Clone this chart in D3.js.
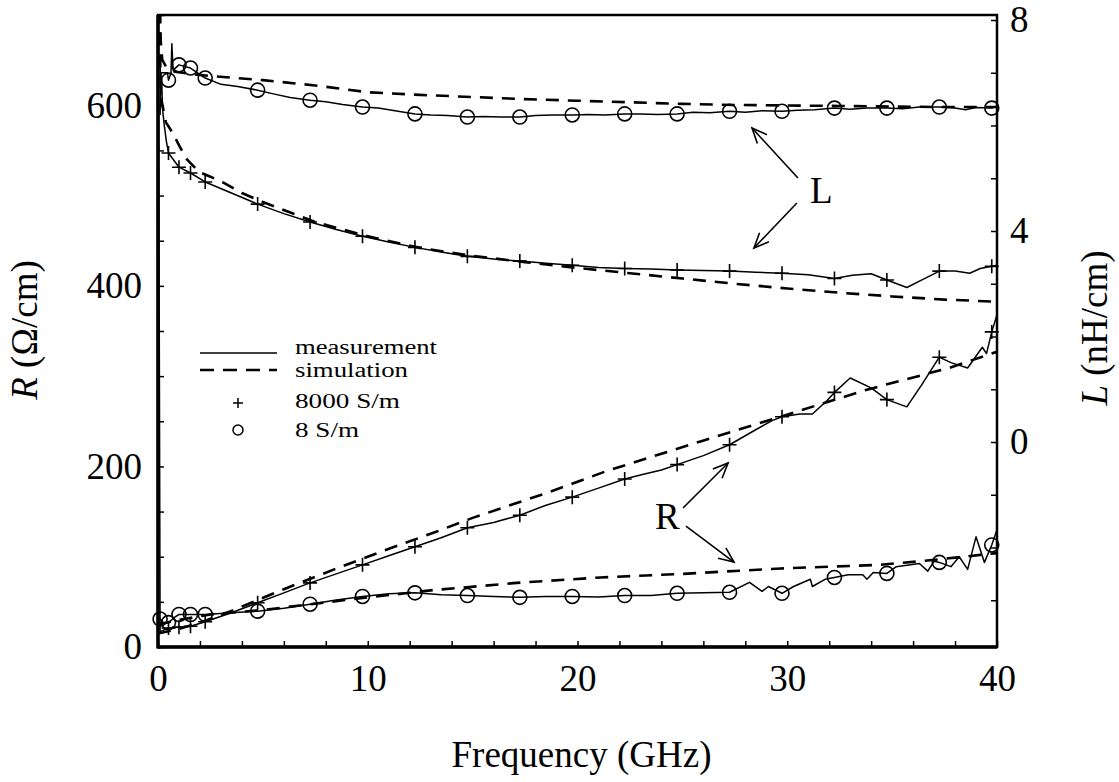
<!DOCTYPE html>
<html>
<head>
<meta charset="utf-8">
<script src="https://cdn.jsdelivr.net/npm/d3@7"></script>
<style>
body { margin: 0; background: #fff; }
text { font-family: "Liberation Serif", "Times New Roman", serif; fill: #000; }
</style>
</head>
<body>
<div id="chart"></div>
<script>
// frequency in GHz, R in ohm/cm (left axis), L in nH/cm (right axis)
const xTicks = [0, 10, 20, 30, 40];
const rTicks = [0, 200, 400, 600];
const lTicks = [0, 4, 8];

// marker positions along the measured curves
const markF = [0.5, 1.0, 1.55, 2.25, 4.75, 7.25, 9.75, 12.25, 14.75, 17.25, 19.75, 22.25, 24.75, 27.25, 29.75, 32.25, 34.75, 37.25, 39.75];
const markF8R = [0.1].concat(markF);

// L, 8 S/m
const lMeas8 = [[0.1, 6.2], [0.15, 7.0], [0.45, 7.0], [0.5, 6.86], [0.62, 7.0], [0.66, 7.55], [0.72, 7.05], [1.0, 7.15], [1.55, 7.09], [2.25, 6.9], [3.0, 6.78], [3.8, 6.74], [4.75, 6.67], [5.5, 6.6], [6.3, 6.53], [7.25, 6.48], [8.0, 6.45], [8.8, 6.4], [9.75, 6.35], [10.5, 6.33], [11.3, 6.28], [12.25, 6.22], [13.0, 6.2], [13.8, 6.19], [14.75, 6.16], [15.5, 6.17], [16.3, 6.16], [17.25, 6.16], [18.0, 6.19], [18.8, 6.2], [19.75, 6.2], [20.5, 6.21], [21.3, 6.2], [22.25, 6.22], [23.0, 6.22], [23.8, 6.21], [24.75, 6.22], [25.5, 6.25], [26.3, 6.24], [27.25, 6.27], [28.0, 6.25], [28.8, 6.28], [29.75, 6.27], [30.5, 6.29], [31.3, 6.3], [32.25, 6.33], [33.0, 6.31], [33.8, 6.33], [34.75, 6.33], [35.5, 6.32], [36.3, 6.35], [37.25, 6.35], [38.0, 6.33], [38.5, 6.3], [39.0, 6.34], [39.75, 6.33], [40, 6.36]];
const lSim8 = [[0.08, 8.6], [0.13, 7.6], [0.2, 7.25], [0.4, 7.1], [0.8, 7.02], [1.5, 6.98], [2.5, 6.94], [5, 6.86], [7.5, 6.76], [10, 6.63], [12.5, 6.58], [15, 6.54], [17.5, 6.5], [20, 6.47], [22.5, 6.44], [25, 6.41], [27.5, 6.39], [30, 6.38], [32.5, 6.37], [35, 6.36], [37.5, 6.35], [40, 6.35]];

// L, 8000 S/m
const lMeas8000 = [[0.1, 7.3], [0.13, 6.6], [0.17, 6.9], [0.22, 6.3], [0.3, 6.0], [0.4, 5.7], [0.5, 5.48], [1.0, 5.21], [1.55, 5.10], [2.25, 4.93], [3.5, 4.72], [4.75, 4.51], [6.0, 4.33], [7.25, 4.17], [8.5, 4.03], [9.75, 3.9], [11.0, 3.79], [12.25, 3.69], [13.5, 3.6], [14.75, 3.52], [16.0, 3.47], [17.25, 3.43], [18.5, 3.39], [19.75, 3.35], [21.0, 3.31], [22.25, 3.29], [23.5, 3.28], [24.75, 3.26], [26.0, 3.25], [27.25, 3.24], [28.5, 3.22], [29.75, 3.2], [31.0, 3.17], [32.25, 3.1], [33.1, 3.16], [34.0, 3.19], [34.75, 3.07], [35.7, 2.93], [36.4, 3.07], [37.25, 3.24], [38.0, 3.24], [38.7, 3.2], [39.2, 3.29], [39.75, 3.33], [40, 3.35]];
const lSim8000 = [[0.07, 8.6], [0.1, 7.3], [0.15, 6.5], [0.38, 6.06], [0.7, 5.86], [1.0, 5.63], [1.33, 5.38], [1.95, 5.12], [2.5, 5.03], [3.1, 4.92], [4.0, 4.72], [5.0, 4.55], [7.5, 4.17], [10, 3.9], [12.5, 3.68], [15, 3.53], [17.5, 3.41], [20, 3.3], [22.5, 3.2], [25, 3.1], [27.5, 3.0], [30, 2.91], [32.5, 2.83], [35, 2.76], [37.5, 2.7], [40, 2.66]];

// R, 8000 S/m
const rMeas8000 = [[0.02, 690], [0.1, 17], [0.5, 21], [1.0, 22], [1.55, 23], [2.25, 28], [3.5, 38], [4.75, 49], [6.0, 60], [7.25, 71], [8.5, 81], [9.75, 91], [11.0, 101], [12.25, 111], [13.5, 121], [14.75, 132], [16.0, 138], [17.25, 146], [18.5, 157], [19.75, 166], [21.0, 176], [22.25, 186], [23.1, 191], [24.0, 196], [24.75, 202], [26.0, 212], [27.25, 224], [28.6, 242], [29.3, 251], [29.75, 255], [30.6, 258], [31.2, 258], [31.9, 273], [32.25, 282], [33.0, 298], [34.0, 287], [34.75, 274], [35.7, 266], [36.4, 290], [37.25, 321], [37.8, 315], [38.6, 309], [39.3, 332], [39.5, 325], [39.75, 349], [40, 368]];
const rSim8000 = [[0, 15], [1, 20], [2, 27], [3.5, 40], [6, 64], [8.4, 86], [10.8, 107], [13.3, 128], [15, 143], [18.7, 172], [21.4, 195], [24.4, 217], [25.9, 228], [29.8, 256], [33.8, 285], [37.7, 309], [40, 327]];

// R, 8 S/m
const rMeas8 = [[0.05, 30], [0.1, 31], [0.3, 26], [0.5, 27], [0.8, 33], [1.0, 36], [1.55, 36], [2.25, 36], [3.5, 38], [4.75, 39.7], [6.0, 43], [7.25, 47.4], [8.5, 52], [9.75, 56], [11.0, 59], [12.25, 60], [13.5, 58], [14.75, 57], [16.0, 56], [17.25, 55], [18.5, 56], [19.75, 56], [21.0, 55.5], [22.25, 57], [23.5, 57], [24.75, 59.5], [26.0, 60], [27.25, 60.6], [28.2, 71.6], [28.8, 61.7], [29.1, 67], [29.75, 59.5], [30.3, 67], [31.1, 75], [31.2, 67], [31.8, 75], [32.25, 77], [32.9, 80], [33.6, 80], [33.8, 75], [34.1, 82.6], [34.75, 81.5], [35.2, 89], [36.3, 92.5], [36.7, 84], [37.0, 95], [37.25, 93.7], [37.8, 89], [38.2, 100], [38.6, 86], [39.0, 122], [39.4, 93.7], [39.75, 113], [40, 130]];
const rSim8 = [[0, 25], [1, 30], [2.5, 36], [5, 41], [7.5, 48], [10, 55], [12, 60], [13.1, 63], [17.1, 71], [21.1, 77], [25, 81], [29.7, 87], [34.4, 91], [36.8, 96], [39.2, 102], [40, 104]];

// annotations, in (GHz, ohm/cm)
const annotLabels = [{text: "L", f: 31.08, r: 491.7}, {text: "R", f: 23.69, r: 130.7}];
const annotArrows = [
    {f0: 30.51, r0: 519.4, f1: 28.32, r1: 574.8},
    {f0: 30.46, r0: 491.7, f1: 28.41, r1: 441.9},
    {f0: 25.03, r0: 153.9, f1: 27.18, r1: 203.8},
    {f0: 25.17, r0: 134.0, f1: 27.46, r1: 94.1}
];

const width = 1119, height = 782;
const plot = {left: 158, right: 997, top: 15, bottom: 647};

const svg = d3.select("#chart").append("svg").attr("width", width).attr("height", height);
svg.append("rect").attr("width", width).attr("height", height).attr("fill", "#fff");

const x = d3.scaleLinear().domain([0, 40]).range([plot.left, plot.right]);
const yR = d3.scaleLinear().domain([0, 700]).range([plot.bottom, plot.top]);
const yL = d3.scaleLinear().domain([-3.886, 8.095]).range([plot.bottom, plot.top]);

const defs = svg.append("defs");
defs.append("clipPath").attr("id", "clip")
    .append("rect")
    .attr("x", plot.left).attr("y", plot.top)
    .attr("width", plot.right - plot.left).attr("height", plot.bottom - plot.top);
defs.append("marker")
    .attr("id", "arrow")
    .attr("markerUnits", "userSpaceOnUse")
    .attr("markerWidth", 20).attr("markerHeight", 20)
    .attr("refX", 16).attr("refY", 8)
    .attr("orient", "auto")
    .append("path")
    .attr("d", "M1,1.5L16,8L1,14.5")
    .attr("fill", "none").attr("stroke", "#000").attr("stroke-width", 1.6);

// axes
const xAxis = d3.axisBottom(x).tickValues(d3.range(0, 41, 2)).tickSize(-6).tickPadding(18)
    .tickFormat(d => xTicks.includes(d) ? d : "");
const rAxis = d3.axisLeft(yR).tickValues(d3.range(0, 701, 50)).tickSize(-6).tickPadding(16)
    .tickFormat(d => rTicks.includes(d) ? d : "");
const lAxis = d3.axisRight(yL).tickValues(d3.range(-3, 9, 1)).tickSize(-6).tickPadding(13)
    .tickFormat(d => lTicks.includes(d) ? d : "");

const gx = svg.append("g").attr("transform", `translate(0,${plot.bottom})`).call(xAxis);
const gr = svg.append("g").attr("transform", `translate(${plot.left},0)`).call(rAxis);
const gl = svg.append("g").attr("transform", `translate(${plot.right},0)`).call(lAxis);

[gx, gr, gl].forEach(g => {
    g.select(".domain").remove();
    g.selectAll(".tick line").attr("stroke", "#000").attr("stroke-width", 1.5);
    g.selectAll(".tick text")
        .attr("font-size", 37)
        .attr("font-family", '"Liberation Serif", "Times New Roman", serif')
        .attr("fill", "#000");
});

// frame
svg.append("rect")
    .attr("x", plot.left).attr("y", plot.top)
    .attr("width", plot.right - plot.left).attr("height", plot.bottom - plot.top)
    .attr("fill", "none").attr("stroke", "#000").attr("stroke-width", 2.5);
svg.append("line")
    .attr("x1", plot.left).attr("x2", plot.left).attr("y1", plot.top).attr("y2", plot.bottom + 1.5)
    .attr("stroke", "#000").attr("stroke-width", 3.5);
svg.append("line")
    .attr("x1", plot.left).attr("x2", plot.right).attr("y1", plot.bottom).attr("y2", plot.bottom)
    .attr("stroke", "#000").attr("stroke-width", 3.5);

// curves
const lineR = d3.line().x(d => x(d[0])).y(d => yR(d[1]));
const lineL = d3.line().x(d => x(d[0])).y(d => yL(d[1]));

const curves = svg.append("g").attr("clip-path", "url(#clip)");
const series = [
    {data: rSim8000, line: lineR, dash: true},
    {data: rSim8, line: lineR, dash: true},
    {data: lSim8000, line: lineL, dash: true},
    {data: lSim8, line: lineL, dash: true},
    {data: rMeas8000, line: lineR, dash: false},
    {data: rMeas8, line: lineR, dash: false},
    {data: lMeas8000, line: lineL, dash: false},
    {data: lMeas8, line: lineL, dash: false}
];
curves.selectAll("path.curve")
    .data(series)
    .join("path")
    .attr("class", "curve")
    .attr("d", d => d.line(d.data))
    .attr("fill", "none")
    .attr("stroke", "#000")
    .attr("stroke-width", d => d.dash ? 2.6 : 1.5)
    .attr("stroke-dasharray", d => d.dash ? "13,9" : null)
    .attr("stroke-linejoin", "round");

// markers
const pick = (data, fs) => data.filter(d => fs.includes(d[0]));
const circles = pick(lMeas8, markF).map(d => [x(d[0]), yL(d[1])])
    .concat(pick(rMeas8, markF8R).map(d => [x(d[0]), yR(d[1])]));
const crosses = pick(lMeas8000, markF).map(d => [x(d[0]), yL(d[1])])
    .concat(pick(rMeas8000, markF).map(d => [x(d[0]), yR(d[1])]));

svg.append("g").selectAll("circle")
    .data(circles)
    .join("circle")
    .attr("cx", d => d[0]).attr("cy", d => d[1]).attr("r", 7)
    .attr("fill", "none").attr("stroke", "#000").attr("stroke-width", 1.6);
svg.append("g").selectAll("path")
    .data(crosses)
    .join("path")
    .attr("transform", d => `translate(${d[0]},${d[1]})`)
    .attr("d", "M-7,0H7M0,-7V7")
    .attr("stroke", "#000").attr("stroke-width", 1.6);

// annotations
svg.append("g").selectAll("line")
    .data(annotArrows)
    .join("line")
    .attr("x1", d => x(d.f0)).attr("y1", d => yR(d.r0))
    .attr("x2", d => x(d.f1)).attr("y2", d => yR(d.r1))
    .attr("stroke", "#000").attr("stroke-width", 1.6)
    .attr("marker-end", "url(#arrow)");
svg.append("g").selectAll("text")
    .data(annotLabels)
    .join("text")
    .attr("x", d => x(d.f)).attr("y", d => yR(d.r))
    .attr("font-size", 37)
    .text(d => d.text);

// legend
const legend = svg.append("g");
legend.append("line").attr("x1", 200).attr("x2", 277).attr("y1", 353).attr("y2", 353)
    .attr("stroke", "#000").attr("stroke-width", 1.5);
legend.append("line").attr("x1", 200).attr("x2", 277).attr("y1", 370).attr("y2", 370)
    .attr("stroke", "#000").attr("stroke-width", 2.4).attr("stroke-dasharray", "14,9");
legend.append("path").attr("transform", "translate(238,403)").attr("d", "M-5,0H5M0,-5V5")
    .attr("stroke", "#000").attr("stroke-width", 1.5);
legend.append("circle").attr("cx", 238).attr("cy", 430).attr("r", 5)
    .attr("fill", "none").attr("stroke", "#000").attr("stroke-width", 1.5);
const legendText = [
    {t: "measurement", y: 354, w: 142},
    {t: "simulation", y: 377, w: 113},
    {t: "8000 S/m", y: 408, w: 105},
    {t: "8 S/m", y: 437, w: 64}
];
legend.selectAll("text")
    .data(legendText)
    .join("text")
    .attr("x", 295).attr("y", d => d.y)
    .attr("font-size", 20)
    .attr("textLength", d => d.w)
    .attr("lengthAdjust", "spacingAndGlyphs")
    .text(d => d.t);

// axis titles
svg.append("text")
    .attr("x", (plot.left + plot.right) / 2 + 4).attr("y", 767)
    .attr("text-anchor", "middle").attr("font-size", 37)
    .text("Frequency (GHz)");

const rTitle = svg.append("text")
    .attr("transform", "translate(37,330) rotate(-90)")
    .attr("text-anchor", "middle").attr("font-size", 37);
rTitle.append("tspan").attr("font-style", "italic").text("R");
rTitle.append("tspan").text(" (Ω/cm)");

const lTitle = svg.append("text")
    .attr("transform", "translate(1107,328) rotate(-90)")
    .attr("text-anchor", "middle").attr("font-size", 37);
lTitle.append("tspan").attr("font-style", "italic").text("L");
lTitle.append("tspan").text(" (nH/cm)");
</script>
</body>
</html>
